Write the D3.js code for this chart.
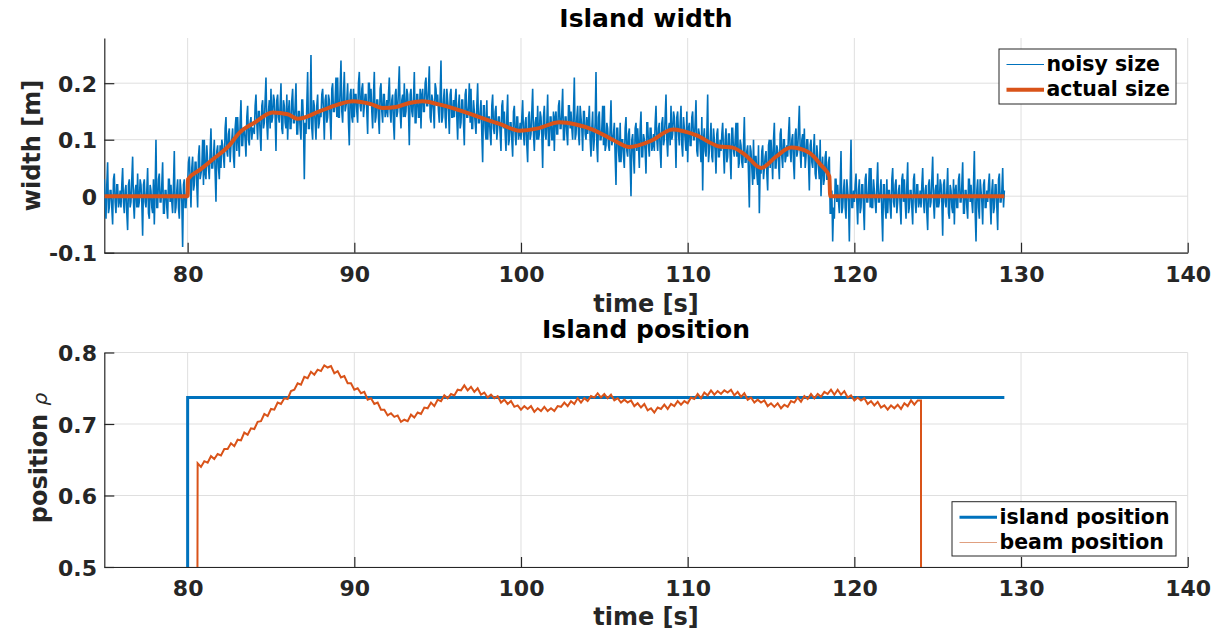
<!DOCTYPE html>
<html>
<head>
<meta charset="utf-8">
<script src="https://cdn.jsdelivr.net/npm/d3@7"></script>
<style>
  body { margin: 0; background: #fff; }
  svg { display: block; font-family: "DejaVu Sans", sans-serif; font-weight: bold; }
</style>
</head>
<body>
<svg id="chart" width="1215" height="630"></svg>
<script>
// ---- Data ----
const xTicks = [80, 90, 100, 110, 120, 130, 140];
const widthTicks = [-0.1, 0, 0.1, 0.2];
const posTicks = [0.5, 0.6, 0.7, 0.8];

// noisy island width: samples at 75.0, 75.1, ... 129.0 s
const noisyT0 = 75, noisyDt = 0.1;
const noisyWidth = [
  .03,-.04,.06,-.02,.01,-.05,.04,-.03,.02,-.01,
  -.02,.05,-.03,.02,-.06,.03,-.01,.07,-.04,.02,
  .04,-.01,.02,-.07,.03,-.02,.05,-.04,.01,-.03,
  -.05,.10,-.02,.04,-.01,.06,-.03,.01,-.04,.03,
  .02,-.03,.08,-.02,.03,-.04,.01,-.09,.03,-.02,
  .02,.07,-.02,.07,.02,.06,-.02,.09,.04,.10,
  .10,.03,.06,.03,.12,.05,.10,-.01,.09,.03,
  .05,.09,.05,.14,.07,.12,.09,.12,.05,.14,
  .14,.07,.17,.09,.12,.07,.16,.09,.14,.12,
  .11,.18,.10,.15,.08,.17,.13,.21,.10,.17,
  .19,.14,.17,.08,.18,.13,.20,.11,.16,.12,
  .10,.17,.12,.19,.13,.20,.11,.15,.10,.17,
  .03,.11,.22,.12,.25,.10,.16,.10,.18,.13,
  .14,.19,.10,.18,.14,.17,.10,.20,.15,.21,
  .21,.14,.24,.13,.22,.16,.20,.09,.19,.13,
  .14,.18,.13,.22,.15,.20,.16,.18,.11,.20,
  .19,.12,.22,.14,.17,.11,.20,.13,.18,.15,
  .14,.21,.13,.18,.10,.19,.15,.23,.12,.18,
  .20,.15,.18,.09,.19,.14,.22,.13,.18,.14,
  .12,.19,.15,.21,.16,.23,.13,.17,.12,.19,
  .18,.13,.24,.14,.19,.12,.17,.11,.19,.14,
  .14,.19,.10,.18,.13,.17,.09,.19,.14,.20,
  .19,.12,.15,.11,.20,.13,.17,.06,.16,.10,
  .10,.14,.09,.18,.11,.16,.12,.14,.08,.17,
  .15,.08,.18,.10,.13,.07,.16,.09,.14,.11,
  .10,.17,.09,.14,.06,.15,.11,.19,.08,.14,
  .16,.11,.14,.05,.16,.10,.18,.09,.14,.10,
  .08,.15,.11,.17,.12,.19,.10,.14,.09,.16,
  .15,.10,.21,.11,.16,.09,.14,.08,.15,.10,
  .11,.16,.07,.15,.10,.22,.06,.15,.10,.16,
  .16,.09,.12,.08,.17,.10,.13,.02,.12,.06,
  .06,.10,.05,.14,.07,.12,.00,.11,.04,.13,
  .12,.05,.15,.07,.10,.04,.13,.07,.12,.09,
  .08,.16,.08,.13,.05,.14,.10,.18,.07,.13,
  .16,.11,.14,.05,.15,.09,.16,.07,.12,.08,
  .06,.13,.09,.15,.10,.17,.07,.11,.06,.01,
  .12,.07,.18,.08,.13,.06,.10,.04,.12,.07,
  .08,.13,.04,.12,.07,.11,.03,.12,.07,.13,
  .13,.06,.09,.05,.14,.06,.09,-.02,.08,.02,
  .03,.07,.02,-.03,.04,.09,.05,.08,.01,.10,
  .10,.03,.13,.05,.08,.03,.12,.05,.10,.07,
  .07,.14,.06,.11,.03,.12,.08,.16,.05,.11,
  .12,.07,.10,.01,.10,.05,.11,.03,.07,.03,
  .00,.07,.03,.08,.03,.07,-.03,-.08,-.04,.03,
  .02,-.03,.08,-.02,.03,-.04,.01,-.08,.10,-.02,
  -.01,.04,-.05,.03,-.02,.02,-.06,.04,-.01,.05,
  .05,-.02,.01,-.03,.06,-.01,.03,-.08,.02,-.04,
  -.03,.01,-.04,.05,-.02,.03,-.01,.02,-.05,.04,
  .03,-.04,.06,-.02,.01,-.05,.04,-.03,.02,-.01,
  -.02,.05,-.03,.02,-.06,.03,-.01,.07,-.04,.02,
  .04,-.01,.02,-.07,.03,-.02,.05,-.04,.01,-.03,
  -.05,.02,-.02,.04,-.01,.06,-.03,.01,-.04,.03,
  .02,-.03,.08,-.08,.03,-.04,.01,-.05,.03,-.02,
  -.01,.04,-.05,.03,-.02,.02,-.06,.04,-.01,.05,
  .01
];
// noisy island width: samples in between, at 75.05, 75.15, ... 128.95 s
const noisyWidthHalf = [
  -.01,.02,-.03,.01,-.02,.03,-.01,.02,-.02,.01,
  .02,-.01,.01,-.03,.02,-.02,.03,-.01,.01,-.02,
  -.02,.03,-.01,.02,-.01,.01,-.03,.02,-.02,.03,
  .01,-.02,.03,-.01,.02,-.03,.01,-.02,.03,-.01,
  -.01,.02,-.03,.01,-.02,.03,-.01,.02,-.02,.01,
  .06,.03,.05,.01,.06,.02,.07,.03,.05,.02,
  .04,.09,.05,.08,.05,.07,.04,.08,.05,.09,
  .10,.07,.12,.08,.11,.06,.10,.07,.12,.08,
  .10,.13,.09,.12,.10,.14,.10,.13,.10,.12,
  .16,.13,.15,.11,.16,.12,.17,.13,.15,.12,
  .13,.18,.14,.17,.14,.16,.12,.17,.13,.18,
  .15,.12,.17,.13,.16,.11,.15,.12,.17,.13,
  .13,.16,.12,.15,.12,.17,.13,.16,.12,.15,
  .18,.15,.17,.13,.18,.14,.19,.15,.17,.14,
  .14,.19,.15,.18,.15,.17,.13,.18,.14,.19,
  .18,.15,.20,.16,.19,.14,.18,.15,.20,.16,
  .15,.18,.13,.17,.14,.19,.15,.18,.14,.17,
  .18,.15,.17,.13,.18,.14,.19,.15,.17,.14,
  .14,.19,.15,.18,.15,.17,.13,.18,.14,.19,
  .18,.15,.20,.16,.19,.14,.18,.15,.20,.16,
  .15,.18,.13,.17,.14,.19,.15,.18,.14,.17,
  .17,.14,.16,.12,.17,.13,.18,.14,.16,.13,
  .12,.17,.13,.16,.13,.15,.11,.16,.12,.17,
  .14,.11,.16,.12,.15,.10,.14,.11,.16,.12,
  .11,.14,.09,.13,.10,.15,.11,.14,.10,.13,
  .14,.11,.13,.09,.14,.10,.15,.11,.13,.10,
  .10,.15,.11,.14,.11,.13,.09,.14,.10,.15,
  .14,.11,.16,.12,.15,.10,.14,.11,.16,.12,
  .12,.15,.10,.14,.11,.16,.12,.15,.11,.14,
  .13,.10,.12,.08,.13,.09,.14,.10,.12,.09,
  .08,.13,.09,.12,.09,.11,.07,.12,.08,.13,
  .10,.07,.12,.08,.11,.06,.10,.07,.12,.08,
  .09,.12,.07,.11,.08,.13,.09,.12,.08,.11,
  .13,.10,.12,.08,.13,.09,.14,.10,.12,.09,
  .10,.15,.11,.14,.11,.13,.09,.14,.10,.15,
  .12,.09,.14,.10,.13,.08,.12,.09,.14,.10,
  .08,.11,.06,.10,.07,.12,.08,.11,.07,.10,
  .11,.08,.10,.06,.11,.07,.12,.08,.10,.07,
  .05,.10,.06,.09,.06,.08,.04,.09,.05,.10,
  .07,.04,.09,.05,.08,.03,.07,.04,.09,.05,
  .07,.10,.05,.09,.06,.11,.07,.10,.06,.09,
  .11,.08,.10,.06,.11,.07,.12,.08,.10,.07,
  .05,.10,.06,.09,.06,.08,.04,.09,.05,.10,
  .05,.02,.07,.03,.06,-.03,.01,-.02,.03,-.01,
  -.01,.02,-.03,.01,-.02,.03,-.01,.02,-.02,.01,
  .02,-.01,.01,-.03,.02,-.02,.03,-.01,.01,-.02,
  -.02,.03,-.01,.02,-.01,.01,-.03,.02,-.02,.03,
  .01,-.02,.03,-.01,.02,-.03,.01,-.02,.03,-.01,
  -.01,.02,-.03,.01,-.02,.03,-.01,.02,-.02,.01,
  .02,-.01,.01,-.03,.02,-.02,.03,-.01,.01,-.02,
  -.02,.03,-.01,.02,-.01,.01,-.03,.02,-.02,.03,
  .01,-.02,.03,-.01,.02,-.03,.01,-.02,.03,-.01,
  -.01,.02,-.03,.01,-.02,.03,-.01,.02,-.02,.01,
  .02,-.01,.01,-.03,.02,-.02,.03,-.01,.01,-.02
];

// actual island width
const actualTime = [75, 80, 80.02, 80.75, 81.5, 82.5, 83.1, 84, 85.1, 86, 86.6, 87.9, 89, 89.9, 91, 91.7,
  92.5, 93.3, 94.1, 95, 96, 97.5, 98.8, 99.9, 101, 102.3, 103.3, 104.3, 105.5, 106.5, 107.8, 109.1,
  110.5, 111.9, 112.7, 113.5, 114.4, 115.3, 116.2, 117.3, 118, 118.5, 118.55, 129];
const actualWidth = [0, 0, 0.03, 0.047, 0.065, 0.09, 0.112, 0.13, 0.148, 0.145, 0.137, 0.15, 0.162, 0.168, 0.163, 0.156,
  0.158, 0.165, 0.168, 0.163, 0.155, 0.14, 0.127, 0.116, 0.12, 0.131, 0.127, 0.118, 0.1, 0.087, 0.098, 0.118,
  0.108, 0.088, 0.086, 0.072, 0.05, 0.07, 0.086, 0.077, 0.055, 0.035, 0, 0];

// island position (step)
const islandTime = [75, 80, 80, 129];
const islandPos = [0, 0, 0.737, 0.737];

// beam position, switched on at 80.55 s and off at 124 s, sampled every 0.2 s from 80.6 s
const beamOn = 80.55, beamOff = 124.0;
const beamT0 = 80.6, beamDt = 0.2;
const beamPos = [
  .645,.640,
  .648,.646,.655,.651,.658,
  .656,.665,.665,.673,.669,
  .678,.677,.688,.685,.694,
  .693,.703,.704,.714,.711,
  .721,.720,.730,.728,.736,
  .735,.746,.748,.757,.755,
  .766,.764,.773,.769,.776,
  .774,.782,.779,.781,.771,
  .774,.765,.767,.757,.757,
  .748,.750,.743,.745,.734,
  .736,.728,.730,.720,.720,
  .712,.715,.710,.712,.703,
  .706,.704,.713,.709,.716,
  .714,.723,.722,.730,.725,
  .734,.732,.740,.736,.742,
  .740,.748,.747,.754,.747,
  .752,.745,.750,.741,.744,
  .737,.741,.736,.739,.730,
  .734,.728,.732,.724,.726,
  .720,.725,.721,.725,.717,
  .722,.718,.724,.718,.722,
  .718,.725,.724,.730,.725,
  .732,.728,.736,.730,.736,
  .732,.739,.737,.743,.737,
  .742,.736,.741,.733,.736,
  .730,.734,.730,.733,.725,
  .729,.723,.728,.719,.722,
  .716,.723,.721,.727,.721,
  .728,.725,.732,.727,.732,
  .729,.737,.735,.742,.736,
  .744,.740,.747,.741,.746,
  .742,.747,.744,.748,.740,
  .745,.738,.743,.734,.737,
  .730,.734,.730,.733,.725,
  .729,.724,.729,.722,.727,
  .724,.732,.730,.737,.731,
  .739,.735,.742,.736,.742,
  .738,.745,.742,.748,.741,
  .748,.741,.746,.737,.740,
  .733,.737,.733,.736,.728,
  .732,.726,.731,.723,.726,
  .720,.726,.722,.727,.721,
  .729,.725,.733,.727,.733,
  .733
];

// ---- Layout ----
const blue = "#0072BD", orange = "#D95319", ink = "#262626", gridCol = "#dfdfdf";
const xLeft = 104.3, xRight = 1187.7, xMid = (xLeft + xRight) / 2;
const svg = d3.select("#chart");
const fmt1 = d => d === 0 ? "0" : d3.format(".1f")(d).replace("\u2212", "-");

function makePanel(id, top, bottom, yDomain, yTicks) {
  const x = d3.scaleLinear().domain([75, 140]).range([xLeft, xRight]);
  const y = d3.scaleLinear().domain(yDomain).range([bottom, top]);
  const g = svg.append("g");

  // grid
  g.append("g").selectAll("line").data(xTicks).join("line")
    .attr("x1", d => x(d)).attr("x2", d => x(d))
    .attr("y1", top).attr("y2", bottom)
    .attr("stroke", gridCol).attr("stroke-width", 1);
  g.append("g").selectAll("line").data(yTicks).join("line")
    .attr("x1", xLeft).attr("x2", xRight)
    .attr("y1", d => y(d)).attr("y2", d => y(d))
    .attr("stroke", gridCol).attr("stroke-width", 1);

  // axes (ticks point inward)
  const xa = g.append("g").attr("transform", `translate(0,${bottom})`)
    .call(d3.axisBottom(x).tickValues(xTicks).tickSize(-10).tickSizeOuter(0).tickPadding(13.4));
  const ya = g.append("g").attr("transform", `translate(${xLeft},0)`)
    .call(d3.axisLeft(y).tickValues(yTicks).tickFormat(fmt1).tickSize(-10).tickSizeOuter(0).tickPadding(7.3));
  [xa, ya].forEach(a => {
    a.attr("font-family", null).attr("font-size", 22);
    a.select(".domain").attr("stroke", ink).attr("stroke-width", 1.2);
    a.selectAll(".tick line").attr("stroke", ink).attr("stroke-width", 1.2);
    a.selectAll(".tick text").attr("fill", ink);
  });
  ya.selectAll(".tick text").attr("dy", "0.37em");

  svg.append("clipPath").attr("id", id)
    .append("rect").attr("x", xLeft).attr("y", top)
    .attr("width", xRight - xLeft).attr("height", bottom - top);
  const plot = svg.append("g").attr("clip-path", `url(#${id})`);
  return { x, y, plot };
}

// ---- Top panel: Island width ----
const p1 = makePanel("clipTop", 38, 252.7, [-0.1, 0.28], widthTicks);
const noisyPts = [];
noisyWidth.forEach((v, i) => {
  const t = noisyT0 + i * noisyDt;
  noisyPts.push([t, v]);
  if (i < noisyWidthHalf.length) noisyPts.push([t + noisyDt / 2, noisyWidthHalf[i]]);
});
const actualPts = actualTime.map((t, i) => [t, actualWidth[i]]);
const line1 = d3.line().x(d => p1.x(d[0])).y(d => p1.y(d[1]));
p1.plot.append("path").attr("d", line1(noisyPts))
  .attr("fill", "none").attr("stroke", blue).attr("stroke-width", 1.6);
p1.plot.append("path").attr("d", line1.curve(d3.curveMonotoneX)(actualPts))
  .attr("fill", "none").attr("stroke", orange).attr("stroke-width", 4).attr("stroke-linejoin", "round");

// ---- Bottom panel: Island position ----
const p2 = makePanel("clipBot", 352.5, 567, [0.5, 0.8], posTicks);
const islandPts = islandTime.map((t, i) => [t, islandPos[i]]);
const beamPts = [[beamOn, 0]]
  .concat(beamPos.map((v, i) => [beamT0 + i * beamDt, v]))
  .concat([[beamOff, 0]]);
const line2 = d3.line().x(d => p2.x(d[0])).y(d => p2.y(d[1]));
p2.plot.append("path").attr("d", line2(islandPts))
  .attr("fill", "none").attr("stroke", blue).attr("stroke-width", 3);
p2.plot.append("path").attr("d", line2(beamPts))
  .attr("fill", "none").attr("stroke", orange).attr("stroke-width", 2);

// ---- Titles and labels ----
const txt = (x, y, s, size, fill, anchor = "middle") =>
  svg.append("text").attr("x", x).attr("y", y).attr("font-size", size)
    .attr("fill", fill).attr("text-anchor", anchor).text(s);

txt(xMid, 26.7, "Island width", 25, "#000");
txt(xMid, 338.3, "Island position", 25, "#000");
txt(xMid, 311.5, "time [s]", 24, ink);
txt(xMid, 625, "time [s]", 24, ink);

svg.append("text").attr("transform", `translate(40,145.5) rotate(-90)`)
  .attr("text-anchor", "middle").attr("font-size", 24).attr("fill", ink).text("width [m]");
const yl2 = svg.append("text").attr("transform", `translate(47,458) rotate(-90)`)
  .attr("text-anchor", "middle").attr("font-size", 24).attr("fill", ink);
yl2.append("tspan").text("position ");
yl2.append("tspan").attr("font-weight", "normal").attr("font-style", "italic")
  .attr("font-size", 20).text("ρ");

// ---- Legends ----
function legend(x, y, w, h, items) {
  const g = svg.append("g");
  g.append("rect").attr("x", x).attr("y", y).attr("width", w).attr("height", h)
    .attr("fill", "#fff").attr("stroke", ink).attr("stroke-width", 1);
  items.forEach((it, i) => {
    const cy = y + 15.5 + i * 25.3;
    g.append("line").attr("x1", x + 7.5).attr("x2", x + 45)
      .attr("y1", cy).attr("y2", cy)
      .attr("stroke", it.color).attr("stroke-width", it.width);
    g.append("text").attr("x", x + 47.5).attr("y", cy + 6.5)
      .attr("font-size", 20.5).attr("fill", "#000").text(it.label);
  });
}
legend(999, 49, 177, 55, [
  { label: "noisy size", color: blue, width: 1 },
  { label: "actual size", color: orange, width: 4 }
]);
legend(952, 501.7, 224, 54.3, [
  { label: "island position", color: blue, width: 3 },
  { label: "beam position", color: "#e0a080", width: 1.2 }
]);
</script>
</body>
</html>
